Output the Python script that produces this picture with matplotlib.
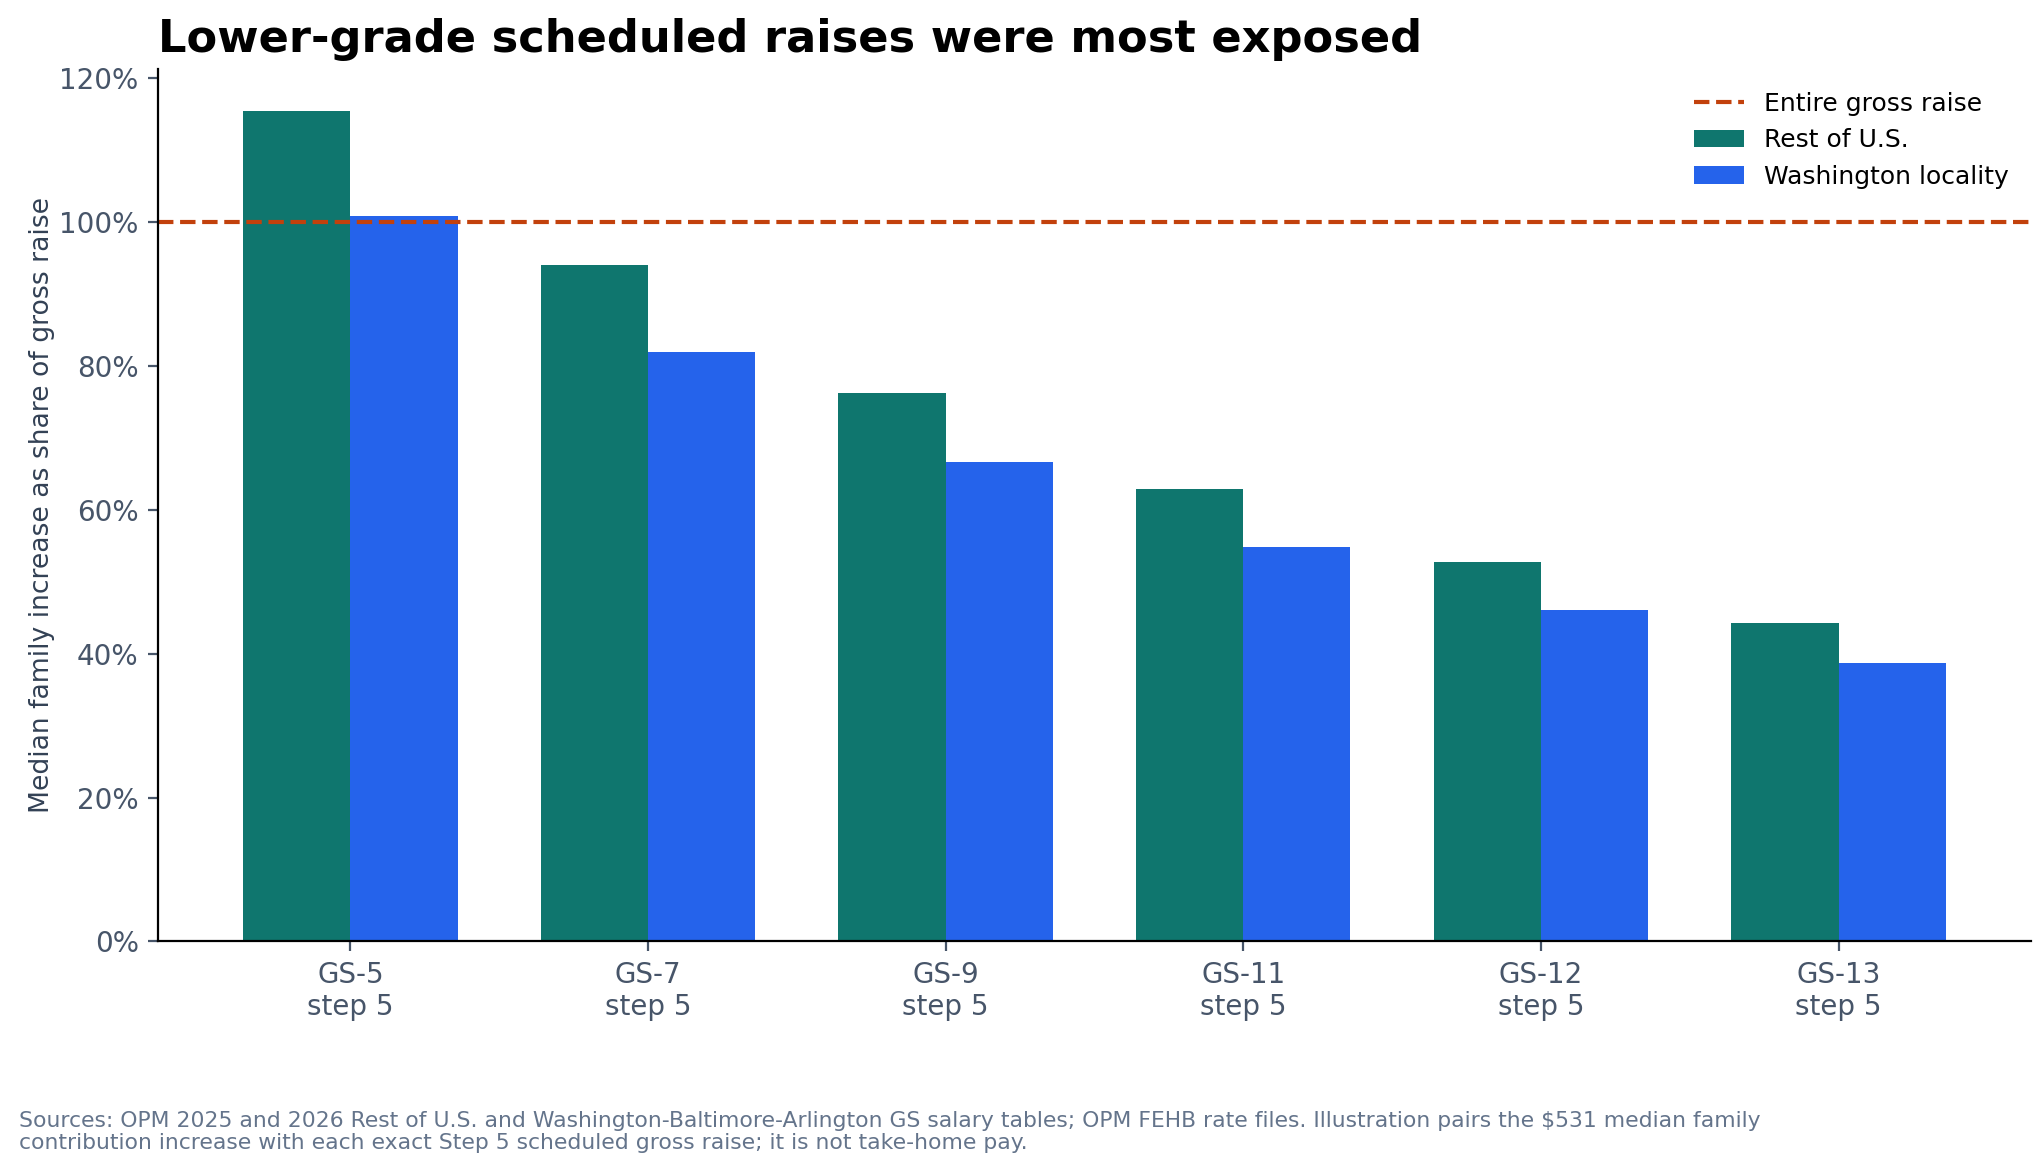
import matplotlib
matplotlib.use("Agg")
import matplotlib.pyplot as plt
import numpy as np
from matplotlib.ticker import PercentFormatter

categories = ["GS-5\nstep 5", "GS-7\nstep 5", "GS-9\nstep 5", "GS-11\nstep 5", "GS-12\nstep 5", "GS-13\nstep 5"]
rest_of_us = [115.5, 94.0, 76.3, 62.9, 52.7, 44.3]
washington = [100.8, 82.0, 66.6, 54.8, 46.1, 38.7]
threshold = 100.0

TEAL = "#0F766E"
BLUE = "#2563EB"
ORANGE = "#C2410C"
SLATE = "#475569"
DARK = "#334155"
FOOT = "#64748B"

fig = plt.figure(figsize=(10.2, 5.855), dpi=200)
ax = fig.add_axes([0.0775, 0.196, 0.918, 0.745])

x = np.arange(len(categories))
w = 0.36
ax.bar(x - w / 2, rest_of_us, width=w, color=TEAL, label="Rest of U.S.")
ax.bar(x + w / 2, washington, width=w, color=BLUE, label="Washington locality")
ax.axhline(threshold, color=ORANGE, linestyle="--", linewidth=1.5, label="Entire gross raise")

ax.set_ylim(0, max(rest_of_us) * 1.05)
ax.yaxis.set_major_formatter(PercentFormatter(xmax=100, decimals=0))
ax.set_xticks(x)
ax.set_xticklabels(categories)
ax.tick_params(axis="both", colors=SLATE, labelsize=10)
for s in ["top", "right"]:
    ax.spines[s].set_visible(False)
ax.set_ylabel("Median family increase as share of gross raise", fontsize=9.6, color=DARK)
ax.yaxis.set_label_coords(-0.055, 0.5)

ax.set_title("Lower-grade scheduled raises were most exposed", loc="left",
             fontsize=16.1, fontweight="bold", color="black", pad=6)

ax.legend(loc="upper right", frameon=False, fontsize=9)

fig.text(0.0095, 0.0155,
         "Sources: OPM 2025 and 2026 Rest of U.S. and Washington-Baltimore-Arlington GS salary tables; OPM FEHB rate files. Illustration pairs the $531 median family\n"
         "contribution increase with each exact Step 5 scheduled gross raise; it is not take-home pay.",
         fontsize=7.9, color=FOOT, ha="left", va="bottom", linespacing=1.12)

fig.savefig("out.png", dpi=200)
